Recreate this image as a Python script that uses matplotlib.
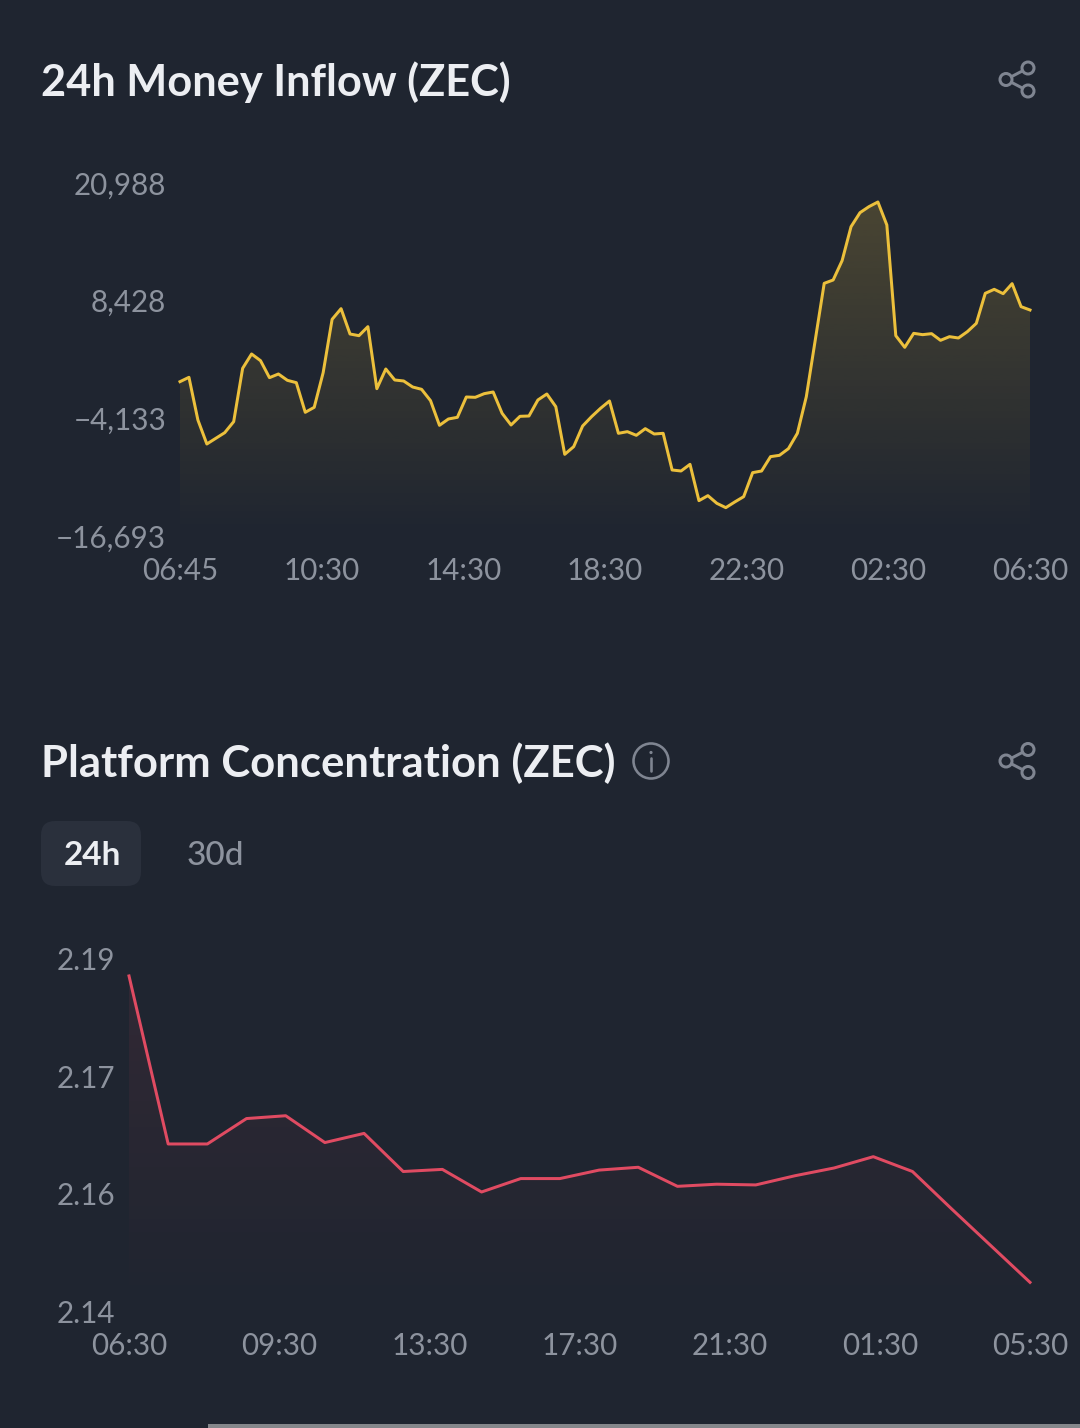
import numpy as np
import matplotlib
matplotlib.use("Agg")
import matplotlib.pyplot as plt
from matplotlib.patches import FancyBboxPatch, Circle, Rectangle
from matplotlib.transforms import ScaledTranslation

plt.rcParams['font.family'] = ['Lato', 'DejaVu Sans']

# ---------- data ----------
inflow_values = [
    -111, 352, -4203, -6765, -6159, -5555, -4380, 1312, 2842, 2130, 316, 707,
    31, -218, -3384, -2850, 850, 6542, 7681, 4977, 4799, 5760, -858, 1241,
    67, -40, -680, -929, -2139, -4772, -4096, -3918, -1748, -1783, -1392, -1214,
    -3491, -4736, -3811, -3776, -2068, -1427, -2779, -7868, -7049, -4843, -3847, -2958,
    -2175, -5626, -5448, -5839, -5128, -5697, -5626, -9540, -9647, -8935, -12813, -12279,
    -13098, -13560, -12955, -12386, -9824, -9647, -8116, -7974, -7263, -5626, -1712, 4337,
    10385, 10741, 12805, 16434, 17928, 18569, 19067, 16612, 4799, 3554, 5048, 4906,
    5013, 4301, 4692, 4550, 5226, 6116, 9318, 9745, 9282, 10350, 7895, 7539,
]
inflow_ticks = [-16693, -4133, 8428, 20988]
inflow_ticklabels = ['\u221216,693', '\u22124,133', '8,428', '20,988']
inflow_xlabels = ['06:45', '10:30', '14:30', '18:30', '22:30', '02:30', '06:30']

conc_values = [
    2.1876, 2.1638, 2.1638, 2.1674, 2.1678, 2.1640, 2.1653, 2.1599,
    2.1602, 2.1570, 2.1589, 2.1589, 2.1601, 2.1605, 2.1578, 2.1581,
    2.1580, 2.1593, 2.1604, 2.1620, 2.1599, 2.1546, 2.1494, 2.1442,
]
conc_ylim = (2.14, 2.19)
conc_ticklabels = ['2.14', '2.16', '2.17', '2.19']
conc_xlabels = ['06:30', '09:30', '13:30', '17:30', '21:30', '01:30', '05:30']

# ---------- style ----------
W, H = 1080, 1428
BG = '#1f2530'
TITLE = '#eceef2'
TICK = '#8d939e'
ICON = '#7f8591'
YELLOW = '#ecc03c'
RED = '#e04b62'
PX = 72 / 100  # points per pixel at dpi=100

fig = plt.figure(figsize=(W / 100, H / 100), dpi=100, facecolor=BG)


def make_axes(left, right, top, bottom):
    ax = fig.add_axes([left / W, 1 - bottom / H, (right - left) / W, (bottom - top) / H])
    ax.set_facecolor('none')
    for s in ax.spines.values():
        s.set_visible(False)
    return ax


def area_chart(ax, values, color, top_alpha, lw, y_min, y_max, yticks, ylabels, xlabels, gtop, nudge):
    x = np.arange(len(values))
    ax.set_xlim(0, len(values) - 1)
    ax.set_ylim(y_min, y_max)
    poly = ax.fill_between(x, values, y_min, color='none', lw=0)
    rgb = matplotlib.colors.to_rgb(color)
    grad = np.zeros((256, 1, 4))
    grad[..., :3] = rgb
    grad[..., 3] = np.linspace(top_alpha, 0.0, 256)[:, None]
    im = ax.imshow(grad, extent=[0, len(values) - 1, y_min, gtop], origin='upper',
                   aspect='auto', zorder=1, interpolation='bilinear')
    im.set_clip_path(poly.get_paths()[0], transform=ax.transData)
    ax.set_xlim(0, len(values) - 1)
    ax.set_ylim(y_min, y_max)
    ax.plot(x, values, color=color, lw=lw * PX, solid_joinstyle='round', zorder=2, clip_on=False)
    ax.set_yticks(yticks)
    ax.set_yticklabels(ylabels)
    ax.set_xticks(np.linspace(0, len(values) - 1, len(xlabels)))
    ax.set_xticklabels(xlabels)
    ax.tick_params(axis='y', length=0, pad=14 * PX, labelsize=21.3, labelcolor=TICK)
    ax.tick_params(axis='x', length=0, pad=20 * PX, labelsize=21.3, labelcolor=TICK)
    shift = ScaledTranslation(0, nudge * PX / 72, fig.dpi_scale_trans)
    for lab in ax.get_yticklabels():
        lab.set_transform(lab.get_transform() + shift)


ax1 = make_axes(180, 1030, 184, 537)
area_chart(ax1, inflow_values, YELLOW, 0.21, 3.0, inflow_ticks[0], inflow_ticks[-1],
           inflow_ticks, inflow_ticklabels, inflow_xlabels, 19067, 1.2)

ax2 = make_axes(129, 1030, 959, 1312)
area_chart(ax2, conc_values, RED, 0.10, 3.0, conc_ylim[0], conc_ylim[1],
           np.linspace(conc_ylim[0], conc_ylim[1], 4), conc_ticklabels, conc_xlabels, 2.1876, 0.4)

# ---------- overlay for page furniture, in pixel coordinates ----------
ov = fig.add_axes([0, 0, 1, 1], zorder=5)
ov.set_xlim(0, W)
ov.set_ylim(H, 0)
ov.axis('off')
ov.patch.set_alpha(0)

ov.text(41, 96, '24h Money Inflow (ZEC)', color=TITLE, fontsize=31.2, fontweight='bold',
        ha='left', va='baseline')
ov.text(41, 777, 'Platform Concentration (ZEC)', color=TITLE, fontsize=31.4, fontweight='bold',
        ha='left', va='baseline')


def share_icon(cy):
    pts = [(1006, cy), (1028, cy - 11.5), (1028, cy + 11.5)]
    for p in pts[1:]:
        ov.plot([pts[0][0], p[0]], [pts[0][1], p[1]], color=ICON, lw=3 * PX, zorder=1)
    for p in pts:
        ov.add_patch(Circle(p, 6, fc=BG, ec=ICON, lw=3 * PX, zorder=2))


share_icon(79.5)
share_icon(761)

ov.add_patch(Circle((651, 761), 17.5, fc='none', ec=ICON, lw=2.6 * PX))
ov.plot([651, 651], [758, 771], color=ICON, lw=2.6 * PX, solid_capstyle='round')
ov.add_patch(Circle((651, 752.5), 1.6, fc=ICON, ec='none'))

ov.add_patch(FancyBboxPatch((41, 821), 100, 65, boxstyle='round,pad=0,rounding_size=14', lw=0,
                            fc='#2a303c', zorder=0))
ov.text(92, 865, '24h', color=TITLE, fontsize=24, fontweight='bold', ha='center', va='baseline')
ov.text(215.5, 865, '30d', color=TICK, fontsize=24, fontweight='medium', ha='center', va='baseline')

ov.add_patch(Rectangle((208, 1424), 872, 4, fc='#85878b', ec='none'))

fig.savefig('out.png', dpi=100, facecolor=BG)
